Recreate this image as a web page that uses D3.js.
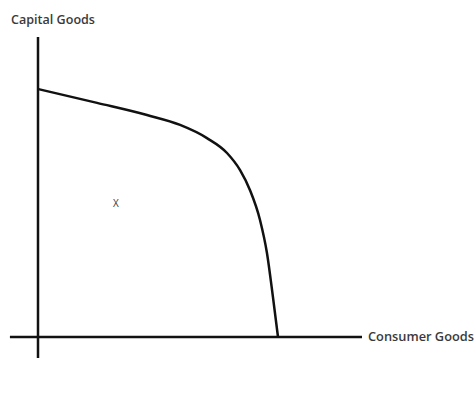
<!DOCTYPE html>
<html>
<head>
<meta charset="utf-8">
<script src="https://cdn.jsdelivr.net/npm/d3@7"></script>
<style>
    body { margin: 0; background: #fff; }
    text { font-family: "Open Sans", sans-serif; fill: #3a3a3a; }
</style>
</head>
<body>
<div id="chart"></div>
<script>
'use strict'

// production possibility frontier
const consumerGoods = [0, 24.6, 45.4, 59.2, 70.4, 78.75, 84.2, 88.3, 92.5, 95.4, 97.9, 100]
const capitalGoods = [100, 94.4, 89.5, 85.5, 80.2, 74.2, 67.3, 59.3, 47.2, 33.9, 16.1, 0]

const xAxisLabel = "Consumer Goods"
const yAxisLabel = "Capital Goods"
const pointLabel = { x: 32.5, y: 53.6, text: "X" }

// axis extents (in the same units)
const xExtent = [-11.7, 135]
const yExtent = [-8.5, 121]

const svgWidth = 476
const svgHeight = 395

const svg = d3.select('#chart')
    .append('svg')
    .attr('width', svgWidth)
    .attr('height', svgHeight)

// origin sits at (38, 337)
const x = d3.scaleLinear()
    .domain([0, 100])
    .range([38, 278])

const y = d3.scaleLinear()
    .domain([0, 100])
    .range([337, 89])

// axes
svg.append('line')
    .attr('x1', x(xExtent[0]))
    .attr('x2', x(xExtent[1]))
    .attr('y1', y(0))
    .attr('y2', y(0))
    .attr('stroke', '#111')
    .attr('stroke-width', 2.5)

svg.append('line')
    .attr('x1', x(0))
    .attr('x2', x(0))
    .attr('y1', y(yExtent[1]))
    .attr('y2', y(yExtent[0]))
    .attr('stroke', '#111')
    .attr('stroke-width', 2.5)

// curve
const data = consumerGoods.map((c, i) => ({ c: c, k: capitalGoods[i] }))

svg.append('path')
    .datum(data)
    .attr('fill', 'none')
    .attr('stroke', '#111')
    .attr('stroke-width', 2.5)
    .attr('d', d3.line()
        .x(d => x(d.c))
        .y(d => y(d.k))
        .curve(d3.curveMonotoneX))

// labels
svg.append('text')
    .attr('x', 11)
    .attr('y', 24)
    .attr('font-size', 12.5)
    .attr('font-weight', 600)
    .attr('textLength', 84)
    .attr('lengthAdjust', 'spacingAndGlyphs')
    .text(yAxisLabel)

svg.append('text')
    .attr('x', x(xExtent[1]) + 6)
    .attr('y', y(0) + 4)
    .attr('font-size', 12.5)
    .attr('font-weight', 600)
    .attr('textLength', 106)
    .attr('lengthAdjust', 'spacingAndGlyphs')
    .text(xAxisLabel)

svg.append('text')
    .attr('x', x(pointLabel.x))
    .attr('y', y(pointLabel.y))
    .attr('font-size', 10)
    .attr('text-anchor', 'middle')
    .attr('dominant-baseline', 'middle')
    .attr('fill', '#555')
    .text(pointLabel.text)
</script>
</body>
</html>
